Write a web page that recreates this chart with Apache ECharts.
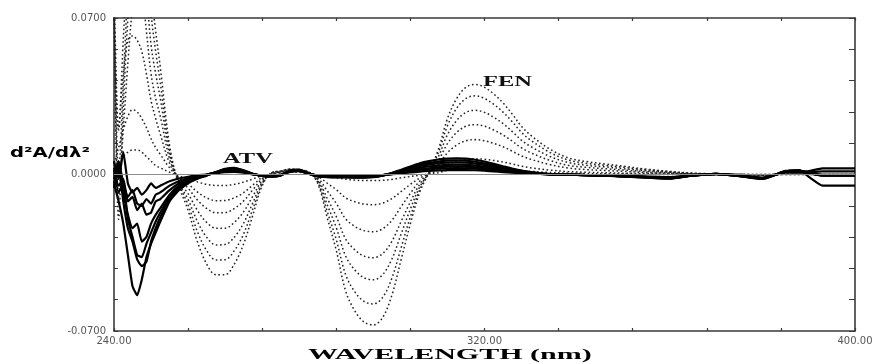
<!DOCTYPE html>
<html>
<head>
<meta charset="utf-8">
<script src="https://cdn.jsdelivr.net/npm/echarts@6/dist/echarts.min.js"></script>
<style>
html,body{margin:0;padding:0;background:#fff;}
#chart{width:876px;height:364px;}
</style>
</head>
<body>
<div id="chart"></div>
<script>
// Wavelength grid (nm)
const wavelength = [
  240,241,242,243,244,245,246,247,248,249,250,
  252,254,256,258,260,262,264,266,268,270,272,274,
  276,278,280,282,284,286,288,290,292,294,296,298,
  300,302,304,306,308,310,312,314,316,318,320,322,
  324,326,328,330,334,338,342,346,350,
  355,360,365,370,375,380,385,388,390,393,396,400
];

// FEN (dotted) second-derivative spectra, increasing concentration
const fen1 = [
  0.0,0.004,0.008,0.01,0.011,0.011,0.01,0.008,0.006,0.004,0.003,
  0.001,-0.0006,-0.0018,-0.0033,-0.0044,-0.0049,-0.0049,-0.0044,-0.0034,-0.002,-0.0005,0.0001,
  0.0008,0.0012,0.001,0.0005,-0.0002,-0.0008,-0.0014,-0.0021,-0.0025,-0.0027,-0.0027,-0.0026,
  -0.0022,-0.0015,-0.0009,-0.0003,0.0001,0.0008,0.0019,0.0026,0.003,0.0031,0.003,0.0028,
  0.0025,0.0021,0.0017,0.0014,0.0009,0.0006,0.0004,0.0003,0.0002,
  0.0001,0.0,0.0,0.0,0.0,0.0,0.0,0.0,0.0,0.0,0.0,0.0
];
const fen2 = [
  0.005,0.012,0.02,0.026,0.029,0.028,0.025,0.021,0.016,0.012,0.009,
  0.003,-0.0013,-0.0042,-0.0078,-0.0104,-0.0117,-0.0116,-0.0104,-0.0081,-0.0047,-0.0013,0.0002,
  0.001,0.0016,0.0013,0.0006,-0.0008,-0.0038,-0.0068,-0.0104,-0.0122,-0.0132,-0.0135,-0.0128,
  -0.0108,-0.0076,-0.0044,-0.0016,0.0002,0.0019,0.0044,0.0059,0.0068,0.007,0.0068,0.0063,
  0.0056,0.0047,0.0037,0.003,0.002,0.0013,0.001,0.0008,0.0006,
  0.0004,0.0002,0.0001,0.0,0.0,0.0,0.0,0.0,0.0,0.0,0.0,0.0
];
const fen3 = [
  0.075,0.02,0.045,0.06,0.062,0.06,0.055,0.045,0.033,0.025,0.018,
  0.005,-0.0019,-0.0061,-0.0114,-0.0152,-0.0171,-0.017,-0.0152,-0.0118,-0.0068,-0.0019,0.0003,
  0.0012,0.0018,0.0015,0.0008,-0.0015,-0.0072,-0.0129,-0.0198,-0.0232,-0.0251,-0.0256,-0.0243,
  -0.0205,-0.0144,-0.0084,-0.003,0.0004,0.0043,0.0097,0.0132,0.0151,0.0156,0.0151,0.0139,
  0.0124,0.0104,0.0083,0.0068,0.0045,0.0029,0.0022,0.0018,0.0014,
  0.0009,0.0005,0.0002,0.0001,0.0,-0.0001,0.0001,0.0002,0.0001,0.0,0.0,0.0
];
const fen4 = [
  0.075,-0.01,0.02,0.05,0.075,0.088,0.082,0.064,0.045,0.034,0.026,
  0.007,-0.0027,-0.0086,-0.016,-0.0214,-0.024,-0.024,-0.0214,-0.0166,-0.0096,-0.0027,0.0004,
  0.0013,0.002,0.0017,0.0009,-0.0022,-0.0105,-0.0188,-0.0288,-0.0337,-0.0365,-0.0372,-0.0354,
  -0.0299,-0.021,-0.0122,-0.0044,0.0006,0.0061,0.0138,0.0188,0.0216,0.0223,0.0216,0.0199,
  0.0177,0.0149,0.0119,0.0097,0.0064,0.0041,0.0032,0.0026,0.002,
  0.0013,0.0008,0.0003,0.0002,0.0,-0.0002,0.0002,0.0003,0.0002,0.0,0.0,0.0
];
const fen5 = [
  0.08,-0.02,0.03,0.07,0.10,0.115,0.105,0.082,0.058,0.045,0.034,
  0.009,-0.0035,-0.0112,-0.021,-0.028,-0.0315,-0.0313,-0.028,-0.0217,-0.0126,-0.0035,0.0006,
  0.0014,0.0022,0.0018,0.001,-0.0028,-0.0133,-0.0238,-0.0364,-0.0427,-0.0462,-0.0471,-0.0448,
  -0.0378,-0.0266,-0.0154,-0.0056,0.0007,0.0078,0.0178,0.0242,0.0278,0.0287,0.0278,0.0256,
  0.0228,0.0192,0.0153,0.0125,0.0082,0.0054,0.0041,0.0034,0.0026,
  0.0017,0.001,0.0004,0.0002,0.0,-0.0002,0.0002,0.0003,0.0003,0.0,0.0,0.0
];
const fen6 = [
  0.085,0.0,0.04,0.085,0.12,0.14,0.13,0.10,0.072,0.055,0.041,
  0.011,-0.004,-0.0136,-0.0255,-0.034,-0.0382,-0.0381,-0.034,-0.0265,-0.0153,-0.0042,0.0007,
  0.0015,0.0024,0.002,0.0011,-0.0035,-0.0163,-0.0292,-0.0447,-0.0525,-0.0568,-0.0579,-0.055,
  -0.0464,-0.0327,-0.0189,-0.0069,0.0008,0.0096,0.0218,0.0297,0.034,0.0352,0.034,0.0314,
  0.0279,0.0236,0.0188,0.0153,0.010,0.0065,0.005,0.0041,0.0032,
  0.0021,0.0012,0.0005,0.0002,0.0,-0.0003,0.0002,0.0004,0.0003,0.0,0.0,0.0
];
const fen7 = [
  0.09,0.02,0.06,0.10,0.14,0.17,0.15,0.115,0.083,0.064,0.048,
  0.013,-0.005,-0.016,-0.030,-0.040,-0.0448,-0.0448,-0.040,-0.031,-0.018,-0.005,0.0008,
  0.0015,0.0025,0.002,0.0012,-0.004,-0.019,-0.034,-0.052,-0.061,-0.066,-0.0673,-0.064,
  -0.054,-0.038,-0.022,-0.008,0.001,0.011,0.025,0.034,0.039,0.0403,0.039,0.036,
  0.032,0.027,0.0215,0.0175,0.0115,0.0075,0.0058,0.0047,0.0037,
  0.0024,0.0014,0.0006,0.0003,0.0,-0.0003,0.0003,0.0005,0.0004,0.0,0.0,0.0
];

// ATV (solid) second-derivative spectra
const atv1 = [
  0.006,-0.002,0.01,-0.004,-0.008,-0.006,-0.009,-0.007,-0.004,-0.006,-0.005,
  -0.003,-0.0018,-0.001,-0.0004,0.0,0.0006,0.0011,0.0012,0.0008,0.0,-0.0004,-0.0005,
  0.0,0.0012,0.0015,0.0004,-0.0004,-0.0006,-0.0006,-0.0006,-0.0007,-0.0007,-0.0006,-0.0003,
  0.0001,0.0005,0.0009,0.0013,0.0016,0.0018,0.002,0.002,0.002,0.0019,0.0017,0.0014,
  0.0011,0.0008,0.0006,0.0004,0.0001,-0.0001,-0.0003,-0.0004,-0.0006,
  -0.0009,-0.0012,-0.0004,0.0002,-0.0004,-0.0014,0.001,0.0012,0.0015,0.0027,0.0027,0.0027
];
const atv2 = [
  -0.002,0.006,-0.004,-0.01,-0.007,-0.013,-0.014,-0.011,-0.013,-0.009,-0.008,
  -0.005,-0.003,-0.0017,-0.0007,0.0,0.0008,0.0014,0.0016,0.001,0.0001,-0.0005,-0.0006,
  -0.0001,0.0013,0.0016,0.0004,-0.0005,-0.0007,-0.0008,-0.0008,-0.0009,-0.0009,-0.0007,-0.0003,
  0.0002,0.0008,0.0014,0.0019,0.0023,0.0026,0.0028,0.0029,0.0028,0.0026,0.0023,0.0019,
  0.0015,0.0011,0.0008,0.0005,0.0001,-0.0001,-0.0003,-0.0005,-0.0007,
  -0.001,-0.0014,-0.0004,0.0002,-0.0005,-0.0016,0.0012,0.0014,0.001,0.0014,0.0014,0.0014
];
const atv3 = [
  0.003,-0.005,-0.002,-0.012,-0.01,-0.016,-0.013,-0.018,-0.017,-0.012,-0.011,
  -0.007,-0.004,-0.0022,-0.001,-0.0001,0.0009,0.0017,0.0019,0.0012,0.0001,-0.0005,-0.0007,
  -0.0002,0.0014,0.0017,0.0004,-0.0006,-0.0008,-0.0009,-0.0009,-0.001,-0.001,-0.0008,-0.0003,
  0.0003,0.001,0.0017,0.0023,0.0028,0.0032,0.0035,0.0036,0.0035,0.0032,0.0028,0.0023,
  0.0018,0.0013,0.0009,0.0006,0.0001,-0.0001,-0.0003,-0.0005,-0.0007,
  -0.0011,-0.0015,-0.0004,0.0003,-0.0005,-0.0017,0.0013,0.0016,0.0008,-0.0003,-0.0003,-0.0003
];
const atv4 = [
  -0.006,0.002,-0.008,-0.018,-0.024,-0.022,-0.03,-0.028,-0.022,-0.018,-0.015,
  -0.009,-0.005,-0.0028,-0.0013,-0.0002,0.001,0.002,0.0022,0.0014,0.0002,-0.0005,-0.0008,
  -0.0003,0.0015,0.0019,0.0004,-0.0007,-0.0009,-0.001,-0.001,-0.0011,-0.0011,-0.0009,-0.0004,
  0.0004,0.0013,0.0022,0.003,0.0036,0.004,0.0043,0.0044,0.0043,0.004,0.0035,0.0029,
  0.0022,0.0016,0.0011,0.0007,0.0001,-0.0001,-0.0003,-0.0005,-0.0008,
  -0.0012,-0.0016,-0.0004,0.0003,-0.0006,-0.0018,0.0014,0.0017,0.0006,-0.0005,-0.0005,-0.0005
];
const atv5 = [
  0.002,-0.008,-0.004,-0.02,-0.028,-0.036,-0.037,-0.031,-0.026,-0.021,-0.017,
  -0.01,-0.0058,-0.0032,-0.0015,-0.0003,0.001,0.0022,0.0025,0.0016,0.0002,-0.0006,-0.0009,
  -0.0003,0.0016,0.002,0.0005,-0.0007,-0.001,-0.0011,-0.0011,-0.0012,-0.0012,-0.001,-0.0004,
  0.0005,0.0016,0.0027,0.0037,0.0045,0.005,0.0053,0.0054,0.0053,0.0049,0.0043,0.0035,
  0.0027,0.002,0.0014,0.0009,0.0002,-0.0001,-0.0003,-0.0005,-0.0008,
  -0.0013,-0.0017,-0.0004,0.0003,-0.0006,-0.0019,0.0015,0.0018,-0.001,-0.005,-0.005,-0.005
];
const atv6 = [
  -0.004,0.004,-0.012,-0.024,-0.03,-0.038,-0.041,-0.039,-0.03,-0.024,-0.019,
  -0.011,-0.0063,-0.0035,-0.0017,-0.0004,0.001,0.0023,0.0027,0.0017,0.0002,-0.0006,-0.0009,
  -0.0004,0.0017,0.0021,0.0005,-0.0008,-0.0011,-0.0012,-0.0012,-0.0013,-0.0013,-0.0011,-0.0004,
  0.0006,0.0018,0.0031,0.0043,0.0052,0.0058,0.0062,0.0063,0.0062,0.0057,0.005,0.0041,
  0.0032,0.0023,0.0016,0.001,0.0002,-0.0001,-0.0003,-0.0005,-0.0008,
  -0.0013,-0.0018,-0.0004,0.0003,-0.0007,-0.002,0.0015,0.0018,0.0006,-0.0004,-0.0004,-0.0004
];
const atv7 = [
  -0.004,-0.012,-0.022,-0.036,-0.05,-0.054,-0.047,-0.037,-0.031,-0.026,-0.021,
  -0.012,-0.007,-0.0039,-0.0019,-0.0005,0.0011,0.0025,0.003,0.0019,0.0003,-0.0006,-0.001,
  -0.0004,0.0018,0.0022,0.0005,-0.0008,-0.0012,-0.0013,-0.0013,-0.0014,-0.0014,-0.0012,-0.0005,
  0.0007,0.0021,0.0036,0.005,0.006,0.0067,0.0071,0.0072,0.0071,0.0066,0.0058,0.0048,
  0.0037,0.0027,0.0018,0.0011,0.0002,-0.0001,-0.0003,-0.0005,-0.0009,
  -0.0014,-0.0019,-0.0004,0.0003,-0.0007,-0.002,0.0016,0.0019,0.0008,-0.0004,-0.0004,-0.0004
];

// Tick labels shown on the axes
const xTickLabels = [240, 320, 400];
const yTickLabels = [-0.07, 0, 0.07];

const fenSeries = [fen1, fen2, fen3, fen4, fen5, fen6, fen7];
const atvSeries = [atv1, atv2, atv3, atv4, atv5, atv6, atv7];

function pairs(arr) { return wavelength.map((w, i) => [w, arr[i]]); }

const chart = echarts.init(document.getElementById('chart'), null, { renderer: 'canvas' });

const axisLineStyle = { color: '#3a3a3a', width: 1.6 };
const series = [];
fenSeries.forEach((arr, k) => {
  series.push({
    name: 'FEN ' + (k + 1), type: 'line', data: pairs(arr), showSymbol: false, symbol: 'none',
    smooth: 0.35, clip: true, z: 2,
    lineStyle: { color: '#222', width: 1.5, type: [1.6, 2.6] }
  });
});
atvSeries.forEach((arr, k) => {
  series.push({
    name: 'ATV ' + (k + 1), type: 'line', data: pairs(arr), showSymbol: false, symbol: 'none',
    smooth: 0.15, clip: true, z: 3,
    lineStyle: { color: '#000', width: 2.2 }
  });
});
series[0].markLine = {
  silent: true, symbol: ['none', 'none'], label: { show: false }, animation: false,
  lineStyle: { color: '#8a8a8a', width: 1, type: 'solid' },
  data: [{ yAxis: 0 }]
};

function xFmt(v) {
  return xTickLabels.some(t => Math.abs(t - v) < 1e-6) ? v.toFixed(2) : '';
}
function yFmt(v) {
  if (!yTickLabels.some(t => Math.abs(t - v) < 1e-9)) return '';
  if (Math.abs(v) < 1e-9) return '0.0000';
  return v.toFixed(4);
}

chart.setOption({
  animation: false,
  backgroundColor: '#fff',
  grid: { left: 114, right: 21, top: 18, bottom: 33, containLabel: false },
  xAxis: [
    {
      type: 'value', min: 240, max: 400, interval: 16, position: 'bottom',
      axisLine: { show: true, onZero: false, lineStyle: axisLineStyle },
      axisTick: { show: true, inside: true, length: 3, lineStyle: { color: '#3a3a3a', width: 1.2 } },
      axisLabel: { formatter: xFmt, color: '#555', fontSize: 10, fontFamily: 'DejaVu Sans', margin: 5 },
      splitLine: { show: false }
    },
    {
      type: 'value', min: 240, max: 400, interval: 16, position: 'top',
      axisLine: { show: true, onZero: false, lineStyle: axisLineStyle },
      axisTick: { show: true, inside: true, length: 3, lineStyle: { color: '#3a3a3a', width: 1.2 } },
      axisLabel: { show: false }, splitLine: { show: false }
    }
  ],
  yAxis: [
    {
      type: 'value', min: -0.07, max: 0.07, interval: 0.014, position: 'left',
      axisLine: { show: true, onZero: false, lineStyle: axisLineStyle },
      axisTick: { show: true, inside: true, length: 4, lineStyle: { color: '#3a3a3a', width: 1 } },
      axisLabel: { formatter: yFmt, color: '#555', fontSize: 10, fontFamily: 'DejaVu Sans', margin: 8 },
      splitLine: { show: false }
    },
    {
      type: 'value', min: -0.07, max: 0.07, interval: 0.014, position: 'right',
      axisLine: { show: true, onZero: false, lineStyle: axisLineStyle },
      axisTick: { show: true, inside: true, length: 6, lineStyle: { color: '#3a3a3a', width: 1 } },
      axisLabel: { show: false }, splitLine: { show: false }
    }
  ],
  graphic: [
    { type: 'text', x: 10, y: 146, scaleX: 1.4, z: 10,
      style: { text: 'd²A/dλ²', font: 'bold 14px "DejaVu Sans"', fill: '#000', align: 'left', verticalAlign: 'top' } },
    { type: 'text', x: 308, y: 348, scaleX: 2.0, z: 10,
      style: { text: 'WAVELENGTH (nm)', font: 'bold 15px "Liberation Serif"', fill: '#000', align: 'left', verticalAlign: 'top' } },
    { type: 'text', x: 223, y: 152, scaleX: 1.75, z: 10,
      style: { text: 'ATV', font: 'bold 14px "Liberation Serif"', fill: '#111', align: 'left', verticalAlign: 'top' } },
    { type: 'text', x: 483, y: 75, scaleX: 1.75, z: 10,
      style: { text: 'FEN', font: 'bold 14px "Liberation Serif"', fill: '#111', align: 'left', verticalAlign: 'top' } }
  ],
  series: series
});
</script>
</body>
</html>
